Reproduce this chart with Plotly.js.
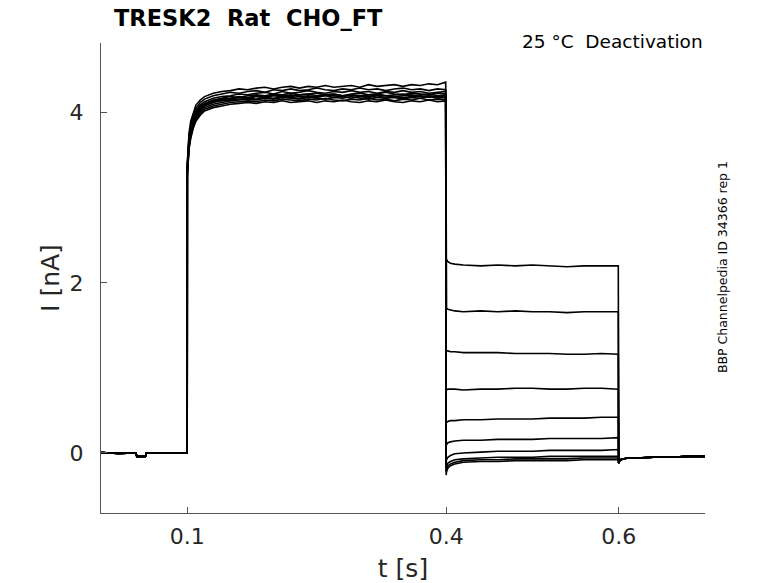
<!DOCTYPE html>
<html>
<head>
<meta charset="utf-8">
<script src="https://cdn.plot.ly/plotly-3.0.1.min.js"></script>
<style>
  body{margin:0;background:#fff}
  #chart{width:778px;height:583px}
</style>
</head>
<body>
<div id="chart"></div>
<script>
"use strict"

// holding segment before the step (same for every sweep)
const tPre = [0, 0.02, 0.0405, 0.041, 0.0415, 0.0515, 0.052, 0.0525, 0.07, 0.0999]
const iPre = [0.005, -0.005, 0.0, -0.03, -0.04, -0.04, -0.03, 0.0, 0.0, 0.0]

// activation step 0.1 - 0.4 s
const tAct = [0.1, 0.1008, 0.102, 0.104, 0.107, 0.11, 0.115, 0.12, 0.13, 0.14,
  0.15, 0.16, 0.17, 0.18, 0.19, 0.2, 0.21, 0.22, 0.23, 0.24,
  0.25, 0.26, 0.27, 0.28, 0.29, 0.3, 0.31, 0.32, 0.33, 0.34,
  0.35, 0.36, 0.37, 0.38, 0.39, 0.3995]
const act1 = [3.40, 3.62, 3.76, 3.90, 4.01, 4.09, 4.15, 4.19, 4.23, 4.25, 4.26, 4.28, 4.27, 4.29, 4.30, 4.28, 4.30, 4.31, 4.29, 4.31, 4.30, 4.32, 4.30, 4.31, 4.32, 4.30, 4.33, 4.31, 4.32, 4.33, 4.31, 4.33, 4.32, 4.34, 4.33, 4.36]
const act2 = [3.38, 3.58, 3.72, 3.86, 3.98, 4.05, 4.12, 4.16, 4.20, 4.22, 4.24, 4.23, 4.25, 4.26, 4.24, 4.27, 4.26, 4.28, 4.26, 4.27, 4.29, 4.27, 4.26, 4.28, 4.27, 4.29, 4.27, 4.28, 4.26, 4.28, 4.29, 4.27, 4.28, 4.26, 4.28, 4.27]
const act3 = [3.36, 3.55, 3.70, 3.83, 3.95, 4.02, 4.09, 4.13, 4.17, 4.19, 4.20, 4.22, 4.21, 4.23, 4.24, 4.22, 4.25, 4.23, 4.24, 4.26, 4.24, 4.23, 4.25, 4.24, 4.26, 4.24, 4.25, 4.23, 4.25, 4.24, 4.26, 4.24, 4.25, 4.23, 4.24, 4.25]
const act4 = [3.35, 3.54, 3.68, 3.81, 3.93, 4.00, 4.07, 4.11, 4.15, 4.17, 4.19, 4.18, 4.20, 4.21, 4.20, 4.22, 4.21, 4.23, 4.21, 4.22, 4.23, 4.21, 4.22, 4.20, 4.22, 4.23, 4.21, 4.22, 4.24, 4.22, 4.21, 4.23, 4.22, 4.21, 4.23, 4.22]
const act5 = [3.33, 3.52, 3.66, 3.80, 3.91, 3.99, 4.06, 4.10, 4.14, 4.16, 4.17, 4.19, 4.18, 4.20, 4.19, 4.21, 4.20, 4.19, 4.21, 4.22, 4.20, 4.21, 4.22, 4.20, 4.21, 4.19, 4.21, 4.22, 4.20, 4.21, 4.22, 4.20, 4.21, 4.22, 4.20, 4.21]
const act6 = [3.32, 3.50, 3.65, 3.78, 3.90, 3.97, 4.04, 4.09, 4.13, 4.15, 4.16, 4.18, 4.17, 4.19, 4.18, 4.20, 4.19, 4.21, 4.19, 4.20, 4.19, 4.21, 4.20, 4.19, 4.21, 4.20, 4.19, 4.21, 4.20, 4.19, 4.20, 4.21, 4.19, 4.20, 4.19, 4.20]
const act7 = [3.30, 3.48, 3.63, 3.76, 3.88, 3.96, 4.03, 4.08, 4.12, 4.14, 4.15, 4.16, 4.17, 4.16, 4.18, 4.17, 4.19, 4.18, 4.17, 4.19, 4.18, 4.20, 4.18, 4.19, 4.17, 4.19, 4.18, 4.20, 4.18, 4.19, 4.18, 4.19, 4.20, 4.18, 4.19, 4.18]
const act8 = [3.28, 3.46, 3.61, 3.75, 3.86, 3.94, 4.01, 4.06, 4.10, 4.12, 4.14, 4.15, 4.16, 4.15, 4.17, 4.16, 4.18, 4.17, 4.16, 4.18, 4.17, 4.16, 4.18, 4.17, 4.19, 4.17, 4.16, 4.18, 4.17, 4.18, 4.16, 4.18, 4.17, 4.19, 4.17, 4.18]
const act9 = [3.26, 3.44, 3.59, 3.72, 3.84, 3.92, 3.99, 4.04, 4.08, 4.10, 4.12, 4.13, 4.14, 4.13, 4.15, 4.14, 4.16, 4.15, 4.14, 4.16, 4.15, 4.17, 4.15, 4.14, 4.16, 4.15, 4.17, 4.15, 4.16, 4.14, 4.16, 4.15, 4.17, 4.15, 4.16, 4.15]
const act10 = [3.24, 3.42, 3.57, 3.70, 3.82, 3.90, 3.97, 4.02, 4.06, 4.08, 4.10, 4.11, 4.12, 4.11, 4.13, 4.12, 4.14, 4.12, 4.13, 4.14, 4.12, 4.14, 4.13, 4.15, 4.13, 4.12, 4.14, 4.13, 4.15, 4.13, 4.12, 4.14, 4.13, 4.15, 4.13, 4.14]

// deactivation tails 0.4 - 0.6 s
const tTail = [0.4, 0.4005, 0.402, 0.405, 0.41, 0.42, 0.44, 0.46, 0.48, 0.5, 0.52, 0.54, 0.56, 0.58, 0.5995]
const tail1 = [2.28, 2.27, 2.25, 2.23, 2.22, 2.21, 2.20, 2.21, 2.20, 2.21, 2.20, 2.19, 2.20, 2.20, 2.20]
const tail2 = [1.71, 1.70, 1.69, 1.68, 1.67, 1.66, 1.67, 1.66, 1.67, 1.66, 1.66, 1.65, 1.66, 1.66, 1.66]
const tail3 = [1.21, 1.20, 1.20, 1.19, 1.19, 1.18, 1.18, 1.18, 1.17, 1.17, 1.17, 1.16, 1.16, 1.17, 1.16]
const tail4 = [0.74, 0.74, 0.75, 0.75, 0.75, 0.74, 0.75, 0.75, 0.76, 0.76, 0.75, 0.75, 0.76, 0.76, 0.75]
const tail5 = [0.36, 0.36, 0.37, 0.38, 0.38, 0.39, 0.39, 0.40, 0.40, 0.40, 0.41, 0.41, 0.41, 0.42, 0.42]
const tail6 = [0.09, 0.10, 0.12, 0.13, 0.14, 0.15, 0.15, 0.16, 0.16, 0.16, 0.17, 0.17, 0.17, 0.17, 0.18]
const tail7 = [-0.10, -0.08, -0.05, -0.03, -0.01, 0.00, 0.01, 0.02, 0.02, 0.02, 0.03, 0.03, 0.03, 0.03, 0.04]
const tail8 = [-0.18, -0.15, -0.12, -0.10, -0.08, -0.07, -0.06, -0.05, -0.05, -0.05, -0.04, -0.04, -0.04, -0.04, -0.04]
const tail9 = [-0.22, -0.19, -0.15, -0.13, -0.11, -0.09, -0.08, -0.08, -0.07, -0.07, -0.07, -0.07, -0.06, -0.06, -0.06]
const tail10 = [-0.26, -0.22, -0.18, -0.15, -0.13, -0.11, -0.10, -0.10, -0.09, -0.09, -0.09, -0.09, -0.08, -0.08, -0.08]

// back to holding (same for every sweep)
const tPost = [0.6, 0.6005, 0.602, 0.605, 0.61, 0.62, 0.64, 0.66, 0.68, 0.7]
const iPost = [-0.12, -0.10, -0.08, -0.07, -0.06, -0.06, -0.05, -0.05, -0.04, -0.04]

const acts = [act1, act2, act3, act4, act5, act6, act7, act8, act9, act10]
const tails = [tail1, tail2, tail3, tail4, tail5, tail6, tail7, tail8, tail9, tail10]

const textColor = "#262626"
const axColor = "#555555"
const font = "DejaVu Sans, Verdana, sans-serif"

const t = [].concat(tPre, tAct, tTail, tPost)
const data = acts.map((a,i)=>({
  x: t,
  y: [].concat(iPre, a, tails[i], iPost),
  type: "scatter",
  mode: "lines",
  line: {color: "#000", width: 1.6},
  hoverinfo: "skip",
}))

const sp = "\u00a0\u00a0"
const layout = {
  width: 778,
  height: 583,
  paper_bgcolor: "#fff",
  plot_bgcolor: "#fff",
  showlegend: false,
  margin: {l: 101, r: 73, t: 43, b: 70, pad: 0},
  font: {family: font, color: textColor},
  title: {
    text: "<b>TRESK2" + sp + "Rat" + sp + "CHO_FT</b>",
    font: {family: font, size: 22.5, color: "#000"},
    x: 114/778, xanchor: "left", xref: "container",
    y: 1 - 18/583, yanchor: "middle", yref: "container",
  },
  xaxis: {
    range: [0, 0.7],
    tickvals: [0.1, 0.4, 0.6],
    ticktext: ["0.1", "0.4", "0.6"],
    ticks: "inside", ticklen: 6, tickwidth: 1, tickcolor: axColor,
    showline: true, linecolor: axColor, linewidth: 1,
    showgrid: false, zeroline: false,
    tickfont: {family: font, size: 22, color: textColor},
    ticklabelstandoff: 4,
    title: {text: "t [s]", font: {family: font, size: 25, color: textColor}, standoff: 12},
  },
  yaxis: {
    range: [-0.706, 4.82],
    tickvals: [0, 2, 4],
    ticks: "inside", ticklen: 6, tickwidth: 1, tickcolor: axColor,
    showline: true, linecolor: axColor, linewidth: 1,
    showgrid: false, zeroline: false,
    tickfont: {family: font, size: 22, color: textColor},
    ticklabelstandoff: 12,
    title: {text: "I [nA]", font: {family: font, size: 25, color: textColor}, standoff: 2},
  },
  annotations: [
    {
      text: "25 °C" + sp + "Deactivation",
      xref: "paper", yref: "paper",
      x: 1, y: 1.004, xanchor: "right", yanchor: "middle",
      showarrow: false,
      font: {family: font, size: 18.5, color: "#000"},
    },
    {
      text: "BBP Channelpedia ID 34366 rep 1",
      xref: "paper", yref: "paper",
      x: 1.028, y: 0.523, xanchor: "center", yanchor: "middle",
      textangle: -90,
      showarrow: false,
      font: {family: font, size: 12.5, color: "#000"},
    },
  ],
}

Plotly.newPlot("chart", data, layout, {displayModeBar: false, staticPlot: true})
</script>
</body>
</html>
